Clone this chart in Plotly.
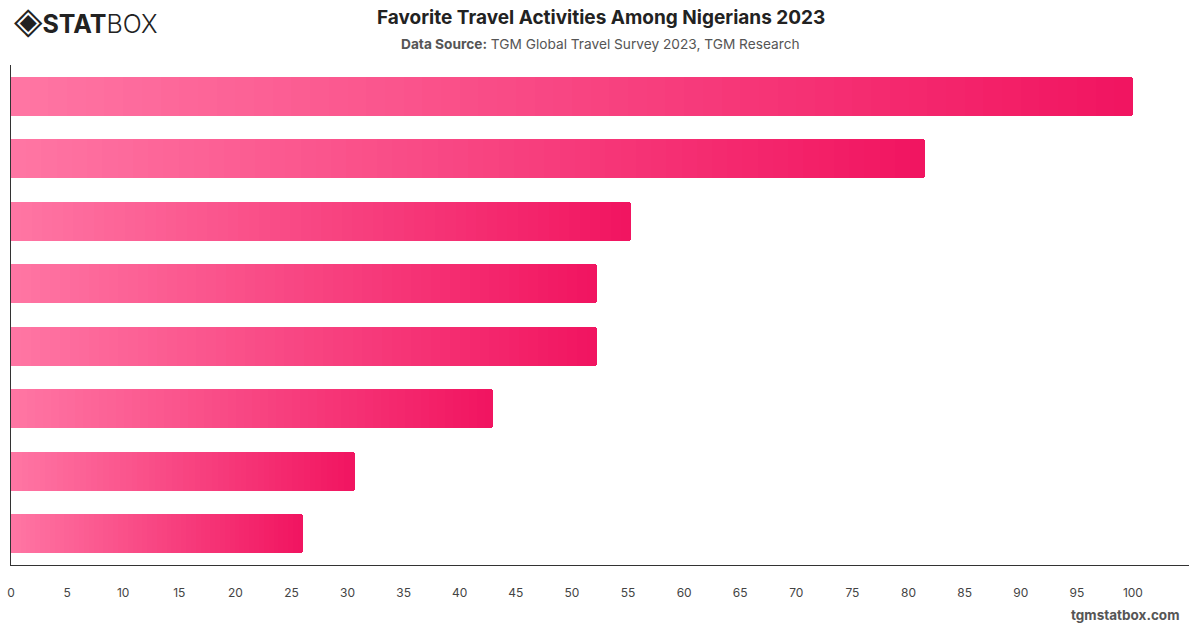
import plotly.graph_objects as go

# ---- data ----
categories = ["Activity 1", "Activity 2", "Activity 3", "Activity 4",
              "Activity 5", "Activity 6", "Activity 7", "Activity 8"]
values = [100, 81.5, 55.3, 52.2, 52.2, 43.0, 30.7, 26.0]
x_ticks = list(range(0, 101, 5))

# ---- style ----
C_START = (255, 118, 164)
C_END = (241, 20, 96)
N_SEG = 60


def lerp(a, b, t):
    return tuple(round(a[i] + (b[i] - a[i]) * t) for i in range(3))


fig = go.Figure()
for k in range(N_SEG):
    t = (k + 0.5) / N_SEG
    c = lerp(C_START, C_END, t)
    fig.add_trace(go.Bar(
        y=categories,
        x=[v / N_SEG for v in values],
        orientation="h",
        marker=dict(color=f"rgb({c[0]},{c[1]},{c[2]})", line=dict(width=0)),
        width=0.63,
        hoverinfo="skip",
        showlegend=False,
    ))

H = 628
W = 1200
PL, PR, PT, PB = 11, 11, 65, 63
pw = W - PL - PR
ph = H - PT - PB

fig.update_layout(
    barmode="stack",
    bargap=0,
    barcornerradius=3,
    width=W, height=H,
    margin=dict(l=PL, r=PR, t=PT, b=PB, autoexpand=False),
    paper_bgcolor="white", plot_bgcolor="white",
    font=dict(family="Inter, Roboto, sans-serif", color="#333"),
    xaxis=dict(
        range=[0, 105], tickvals=x_ticks, showgrid=False, zeroline=False,
        showline=True, linecolor="#333", linewidth=1.3,
        ticks="", ticklabelstandoff=16, automargin=False,
        tickfont=dict(size=12, color="#444"),
    ),
    yaxis=dict(
        autorange="reversed", showticklabels=False, showgrid=False,
        zeroline=False, showline=True, linecolor="#333", linewidth=1.3,
        ticks="", automargin=False,
    ),
)


def px(xp):
    return (xp - PL) / pw


def py(yp):
    return (H - PB - yp) / ph


fig.add_annotation(text="<b>Favorite Travel Activities Among Nigerians 2023</b>",
                   x=px(601), y=py(18), xref="paper", yref="paper",
                   showarrow=False, xanchor="center", yanchor="middle",
                   font=dict(size=19, color="#222"))
fig.add_annotation(text="<b>Data Source:</b> TGM Global Travel Survey 2023, TGM Research",
                   x=px(600), y=py(44), xref="paper", yref="paper",
                   showarrow=False, xanchor="center", yanchor="middle",
                   font=dict(size=13.7, color="#555"))
fig.add_annotation(text="<span style='font-family:DejaVu Sans;font-size:37px'>◈</span>"
                        "<b style='font-size:25px'>STAT</b>"
                        "<span style='font-size:25px;font-weight:300'>BOX</span>",
                   x=px(12), y=py(21), xref="paper", yref="paper",
                   showarrow=False, xanchor="left", yanchor="middle",
                   font=dict(family="Inter, sans-serif", color="#222"))
fig.add_annotation(text="<b>tgmstatbox.com</b>",
                   x=px(1181), y=py(615), xref="paper", yref="paper",
                   showarrow=False, xanchor="right", yanchor="middle",
                   font=dict(size=13.5, color="#555"))

fig.write_html("out.html")
